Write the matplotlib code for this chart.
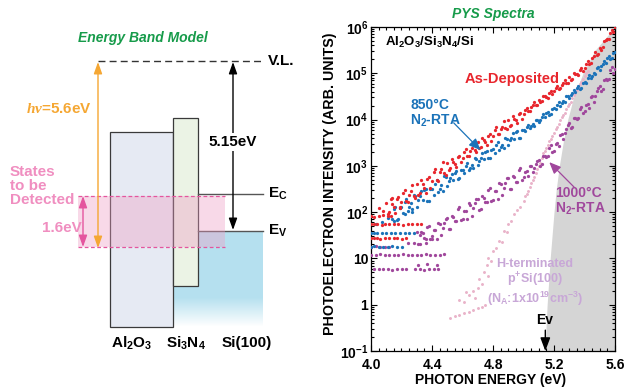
import numpy as np
import matplotlib
matplotlib.use('Agg')
import matplotlib.pyplot as plt
from matplotlib.patches import Rectangle, Polygon

plt.rcParams['font.family'] = ['Liberation Sans', 'DejaVu Sans']
plt.rcParams['font.weight'] = 'bold'
plt.rcParams['mathtext.fontset'] = 'custom'
plt.rcParams['mathtext.rm'] = 'Liberation Sans:bold'
plt.rcParams['mathtext.bf'] = 'Liberation Sans:bold'
plt.rcParams['mathtext.it'] = 'Liberation Serif:italic'
plt.rcParams['mathtext.default'] = 'rm'

# ---------------- PYS spectra: photon energy (eV) vs log10(intensity) ----------------
# as-deposited, scan 1: 4.10 .. 5.60 eV every 0.02 eV
lg_dep = [2.20, 2.00, 2.17, 1.99, 2.32, 2.22, 2.47, 2.21, 2.45, 2.35,
          2.60, 2.41, 2.60, 2.42, 2.76, 2.67, 2.93, 2.68, 2.94, 2.85,
          3.07, 2.95, 3.09, 2.98, 3.22, 3.18, 3.36, 3.21, 3.38, 3.34,
          3.52, 3.41, 3.55, 3.44, 3.68, 3.64, 3.83, 3.68, 3.85, 3.81,
          4.00, 3.89, 4.02, 3.92, 4.15, 4.12, 4.24, 4.19, 4.31, 4.31,
          4.43, 4.40, 4.50, 4.46, 4.61, 4.61, 4.73, 4.68, 4.79, 4.79,
          4.91, 4.88, 4.99, 4.96, 5.11, 5.12, 5.26, 5.23, 5.37, 5.40,
          5.55, 5.56, 5.71, 5.73, 5.93, 5.99]
e_dep = np.linspace(4.10, 5.60, len(lg_dep))
# scan 2: 4.11 .. 5.59 eV
lg_dep2 = [1.97, 2.28, 2.11, 2.28, 2.08, 2.41, 2.24, 2.38, 2.59, 2.30,
           2.37, 2.69, 2.53, 2.72, 2.53, 2.86, 2.70, 2.86, 3.08, 2.81,
           2.92, 3.15, 3.05, 3.19, 3.08, 3.31, 3.22, 3.33, 3.49, 3.31,
           3.38, 3.61, 3.51, 3.65, 3.54, 3.78, 3.69, 3.80, 3.96, 3.79,
           3.86, 4.08, 3.99, 4.12, 4.01, 4.20, 4.18, 4.27, 4.37, 4.31,
           4.37, 4.51, 4.49, 4.58, 4.55, 4.69, 4.67, 4.75, 4.85, 4.79,
           4.85, 5.00, 4.98, 5.08, 5.05, 5.21, 5.21, 5.32, 5.45, 5.42,
           5.51, 5.70, 5.73, 5.87, 5.90]
e_dep2 = np.linspace(4.11, 5.59, len(lg_dep2))
# low-count levels below 4.35 eV
e_dep_low = [4.00, 4.02, 4.05, 4.08, 4.11, 4.13,
             4.00, 4.02, 4.04, 4.07, 4.09, 4.12, 4.15, 4.18, 4.21, 4.24, 4.27, 4.30, 4.33,
             4.00, 4.02, 4.04, 4.06, 4.09, 4.12, 4.15, 4.17, 4.20, 4.23,
             4.05, 4.08, 4.14, 4.19]
lg_dep_low = [1.92, 1.90, 1.92, 1.93, 1.91, 1.92,
              1.74, 1.75, 1.74, 1.73, 1.74, 1.75, 1.74, 1.74, 1.73, 1.74, 1.75, 1.74, 1.74,
              1.44, 1.45, 1.44, 1.43, 1.44, 1.45, 1.44, 1.44, 1.43, 1.44,
              2.08, 2.02, 2.30, 2.12]

# 850 C N2-RTA, scan 1: 4.14 .. 5.60 eV every 0.02 eV
lg_850 = [1.86, 2.11, 1.85, 2.11, 2.21, 2.03, 2.19, 2.38, 2.12, 2.34,
          2.26, 2.51, 2.25, 2.51, 2.61, 2.43, 2.59, 2.79, 2.57, 2.73,
          2.70, 2.88, 2.73, 2.92, 3.00, 2.90, 3.02, 3.17, 3.01, 3.17,
          3.14, 3.32, 3.17, 3.36, 3.44, 3.34, 3.46, 3.61, 3.45, 3.61,
          3.58, 3.76, 3.61, 3.78, 3.84, 3.81, 3.90, 4.00, 3.94, 4.05,
          4.06, 4.17, 4.12, 4.24, 4.32, 4.30, 4.40, 4.50, 4.46, 4.58,
          4.60, 4.73, 4.69, 4.82, 4.90, 4.90, 5.00, 5.12, 5.08, 5.21,
          5.23, 5.37, 5.33, 5.47]
e_850 = np.linspace(4.14, 5.60, len(lg_850))
# scan 2: 4.15 .. 5.59 eV
lg_8502 = [2.07, 1.84, 2.09, 1.98, 2.29, 2.11, 2.06, 2.34, 2.26, 2.46,
           2.47, 2.24, 2.49, 2.38, 2.69, 2.51, 2.46, 2.75, 2.67, 2.83,
           2.85, 2.72, 2.90, 2.84, 3.07, 2.96, 2.95, 3.15, 3.11, 3.27,
           3.29, 3.16, 3.34, 3.28, 3.51, 3.40, 3.39, 3.59, 3.55, 3.71,
           3.73, 3.60, 3.78, 3.75, 3.89, 3.86, 3.87, 4.00, 4.00, 4.11,
           4.14, 4.10, 4.22, 4.22, 4.37, 4.35, 4.37, 4.51, 4.53, 4.64,
           4.69, 4.66, 4.79, 4.80, 4.96, 4.95, 4.98, 5.13, 5.15, 5.27,
           5.33, 5.30, 5.44]
e_8502 = np.linspace(4.15, 5.59, len(lg_8502))
e_850_low = [4.00, 4.02, 4.04, 4.07, 4.10, 4.13, 4.16, 4.19, 4.22, 4.25, 4.28,
             4.00, 4.02, 4.05, 4.08, 4.11, 4.14, 4.17, 4.20,
             4.03, 4.07, 4.11, 4.15, 4.22, 4.27]
lg_850_low = [1.55, 1.56, 1.55, 1.54, 1.55, 1.56, 1.55, 1.55, 1.54, 1.55, 1.56,
              1.25, 1.26, 1.25, 1.24, 1.25, 1.26, 1.25, 1.25,
              1.74, 1.78, 1.88, 1.80, 1.95, 2.00]

# 1000 C N2-RTA, scan 1: 4.30 .. 5.60 eV every 0.02 eV
lg_1000 = [1.57, 1.32, 1.54, 1.43, 1.71, 1.43, 1.61, 1.77, 1.50, 1.77,
           1.87, 1.64, 1.89, 1.80, 2.11, 1.85, 2.03, 2.19, 1.92, 2.19,
           2.29, 2.06, 2.31, 2.22, 2.52, 2.26, 2.45, 2.62, 2.36, 2.63,
           2.74, 2.51, 2.75, 2.66, 2.96, 2.75, 2.88, 2.99, 2.86, 3.04,
           3.12, 3.03, 3.22, 3.21, 3.44, 3.33, 3.50, 3.66, 3.57, 3.80,
           3.92, 3.84, 4.04, 4.04, 4.28, 4.18, 4.34, 4.49, 4.39, 4.61,
           4.72, 4.65, 4.87, 4.88, 5.14, 5.09]
e_1000 = np.linspace(4.30, 5.60, len(lg_1000))
# scan 2: 4.31 .. 5.59 eV
lg_10002 = [1.32, 1.58, 1.44, 1.68, 1.43, 1.61, 1.43, 1.74, 1.66, 1.86,
            1.63, 1.92, 1.80, 2.07, 1.84, 2.03, 1.85, 2.16, 2.08, 2.28,
            2.05, 2.34, 2.22, 2.48, 2.25, 2.45, 2.28, 2.60, 2.52, 2.73,
            2.50, 2.78, 2.66, 2.92, 2.69, 2.87, 2.78, 2.99, 2.96, 3.10,
            3.00, 3.22, 3.19, 3.39, 3.30, 3.47, 3.43, 3.68, 3.70, 3.88,
            3.81, 4.03, 4.01, 4.23, 4.14, 4.31, 4.26, 4.50, 4.51, 4.69,
            4.61, 4.85, 4.85, 5.08, 5.01]
e_10002 = np.linspace(4.31, 5.59, len(lg_10002))
e_1000_low = [4.00, 4.03, 4.06, 4.09, 4.12,
              4.00, 4.03, 4.06, 4.09, 4.12, 4.15, 4.18, 4.21, 4.24, 4.27, 4.30, 4.33, 4.36, 4.39, 4.42, 4.45, 4.48,
              4.02, 4.05, 4.08, 4.11, 4.14, 4.17, 4.20, 4.23, 4.29, 4.32, 4.35, 4.38, 4.41, 4.44,
              4.24, 4.28, 4.32, 4.36, 4.40,
              4.31, 4.37, 4.43]
lg_1000_low = [1.25, 1.26, 1.25, 1.24, 1.25,
               1.08, 1.08, 1.09, 1.08, 1.07, 1.08, 1.08, 1.09, 1.08, 1.08, 1.07, 1.08, 1.09, 1.08, 1.08, 1.08, 1.09,
               0.77, 0.77, 0.78, 0.77, 0.76, 0.77, 0.77, 0.78, 0.77, 0.77, 0.76, 0.77, 0.78, 0.77,
               1.33, 1.34, 1.50, 1.33, 1.48,
               0.86, 0.87, 0.86]

# H-terminated p+ Si(100) reference
e_href = [4.52, 4.55, 4.58, 4.61, 4.64, 4.67, 4.70, 4.73, 4.75,
          4.58, 4.61, 4.64, 4.67, 4.70, 4.73, 4.62, 4.68, 4.71, 4.74, 4.77,
          4.76, 4.77, 4.79, 4.80, 4.82, 4.84, 4.86, 4.87, 4.89, 4.90, 4.92, 4.94, 4.96, 4.98,
          5.00, 5.02, 5.04, 5.06, 5.08, 5.10, 5.12, 5.14, 5.16, 5.18, 5.20,
          5.22, 5.24, 5.26, 5.28, 5.30, 5.32, 5.34, 5.36, 5.38, 5.40, 5.42,
          5.01, 5.03, 5.05, 5.07, 5.09, 5.11, 5.13, 5.15, 5.17, 5.19, 5.21,
          5.23, 5.25, 5.27, 5.29, 5.31, 5.33, 5.35, 5.37, 5.39, 5.41]
lg_href = [-0.28, -0.25, -0.22, -0.18, -0.15, -0.12, -0.08, -0.04, -0.01,
           0.10, 0.05, 0.22, 0.30, 0.36, 0.45, 0.28, 0.15, 0.55, 0.70, 0.62,
           0.85, 1.00, 0.95, 1.15, 1.22, 1.38, 1.35, 1.60, 1.58, 1.75, 1.80, 1.95, 2.05, 2.12,
           2.25, 2.40, 2.55, 2.70, 2.85, 3.00, 3.17, 3.33, 3.46, 3.59, 3.72,
           3.85, 3.98, 4.10, 4.22, 4.34, 4.46, 4.58, 4.70, 4.82, 4.94, 5.06,
           2.34, 2.46, 2.64, 2.77, 2.94, 3.07, 3.27, 3.38, 3.54, 3.64, 3.80,
           3.90, 4.05, 4.15, 4.29, 4.39, 4.53, 4.63, 4.77, 4.87, 5.01]

# Si valence band edge (shaded region)
edge_lg = [-1, 0, 1, 2, 2.5, 3, 3.5, 4, 4.5, 5, 5.5, 6]
edge_e = [5.14, 5.155, 5.175, 5.20, 5.215, 5.235, 5.26, 5.29, 5.33, 5.39, 5.47, 5.60]

xticks = [4.0, 4.4, 4.8, 5.2, 5.6]
ytick_exp = [-1, 0, 1, 2, 3, 4, 5, 6]
ytick_labels = ['$10^{-1}$', '1', '10', '$10^{2}$', '$10^{3}$', '$10^{4}$', '$10^{5}$', '$10^{6}$']

c_red = '#e8262d'
c_blue = '#1b73b9'
c_pur = '#a0479c'
c_pink = '#e9b3c9'
c_lav = '#c8a7d7'
c_green = '#169b4a'
c_orange = '#f5a733'
c_mag = '#e4559e'

fig = plt.figure(figsize=(6.25, 3.87), dpi=100)

# ---------------- left: energy band model (pixel coordinates) ----------------
bg = fig.add_axes([0, 0, 1, 1])
bg.set_xlim(0, 625)
bg.set_ylim(387, 0)
bg.axis('off')

bg.text(143, 38, 'Energy Band Model', color=c_green, fontsize=10, style='italic',
        ha='center', va='center')

# Si substrate with fade at the bottom
si_poly = Polygon([(173, 231), (263, 231), (263, 327), (173, 327)], closed=True,
                  facecolor='none', edgecolor='none')
bg.add_patch(si_poly)
nrow = 96
grad = np.zeros((nrow, 2, 4))
grad[:, :, 0] = 0.71
grad[:, :, 1] = 0.88
grad[:, :, 2] = 0.94
alpha = np.ones(nrow)
alpha[66:] = np.linspace(1, 0, nrow - 66)
grad[:, :, 3] = alpha[:, None]
im = bg.imshow(grad, extent=(173, 263, 327, 231), aspect='auto', zorder=1,
               interpolation='bilinear')
im.set_clip_path(si_poly)
bg.set_xlim(0, 625)
bg.set_ylim(387, 0)

bg.add_patch(Rectangle((110, 132), 63, 195, facecolor='#e6eaf3', edgecolor='#3a3a3a',
                       lw=0.9, zorder=2))
bg.add_patch(Rectangle((173, 118), 25, 168, facecolor='#ebf3e5', edgecolor='#3a3a3a',
                       lw=0.9, zorder=2))
bg.plot([198, 263], [194, 194], color='#555555', lw=1.0, zorder=2)
bg.plot([198, 263], [231, 231], color='#555555', lw=1.0, zorder=2)

# states to be detected
bg.add_patch(Rectangle((78, 196), 147, 51, facecolor='#ef9cc3', alpha=0.38,
                       edgecolor='none', zorder=3))
bg.plot([78, 225], [196, 196], color=c_mag, lw=0.9, ls=(0, (3, 2)), zorder=4)
bg.plot([78, 225], [247, 247], color=c_mag, lw=0.9, ls=(0, (3, 2)), zorder=4)

# vacuum level
bg.plot([98, 263], [61, 61], color='#333333', lw=1.0, ls=(0, (5, 3)), zorder=2)
bg.text(268, 61, 'V.L.', fontsize=11, ha='left', va='center')

arr = '<|-|>,head_length=0.7,head_width=0.25'
bg.annotate('', xy=(98, 62), xytext=(98, 248),
            arrowprops=dict(arrowstyle=arr, color=c_orange, lw=1.0,
                            mutation_scale=10, shrinkA=0, shrinkB=0), zorder=5)
bg.text(92, 109, r'$\mathit{h\nu}$=5.6eV', color=c_orange, fontsize=11,
        ha='right', va='center')

bg.annotate('', xy=(233, 62), xytext=(233, 230),
            arrowprops=dict(arrowstyle=arr, color='black', lw=1.0,
                            mutation_scale=10, shrinkA=0, shrinkB=0), zorder=5)
bg.text(233, 142, '5.15eV', fontsize=11, ha='center', va='center', zorder=6,
        bbox=dict(facecolor='white', edgecolor='none', pad=1.5))

bg.annotate('', xy=(83, 196), xytext=(83, 247),
            arrowprops=dict(arrowstyle=arr, color=c_mag, lw=1.0,
                            mutation_scale=10, shrinkA=0, shrinkB=0), zorder=5)
bg.text(10, 185.5, 'States\nto be\nDetected', color='#f08ec0', fontsize=11,
        ha='left', va='center', linespacing=1.0)
bg.text(82, 228, '1.6eV', color='#f08ec0', fontsize=11, ha='right', va='center')

bg.text(268, 194, r'E$_{C}$', fontsize=11, ha='left', va='center')
bg.text(268, 231, r'E$_{V}$', fontsize=11, ha='left', va='center')

bg.text(132, 343, r'Al$_{2}$O$_{3}$', fontsize=11, ha='center', va='center')
bg.text(186, 343, r'Si$_{3}$N$_{4}$', fontsize=11, ha='center', va='center')
bg.text(247, 343, 'Si(100)', fontsize=11, ha='center', va='center')

# ---------------- right: PYS spectra ----------------
ax = fig.add_axes([371 / 625, 1 - 351 / 387, 244 / 625, 324 / 387])
ax.set_yscale('log')
ax.set_xlim(4.0, 5.6)
ax.set_ylim(0.1, 1e6)

ax.fill_betweenx(np.power(10.0, edge_lg), edge_e, 5.6, color='#d5d5d5', lw=0, zorder=1)

series = [(e_href, lg_href, c_pink, 3, 4.5),
          (e_1000, lg_1000, c_pur, 3, 5.5), (e_10002, lg_10002, c_pur, 3, 5.5),
          (e_1000_low, lg_1000_low, c_pur, 3, 5.5),
          (e_850, lg_850, c_blue, 4, 5.5), (e_8502, lg_8502, c_blue, 4, 5.5),
          (e_850_low, lg_850_low, c_blue, 4, 5.5),
          (e_dep, lg_dep, c_red, 4, 5.5), (e_dep2, lg_dep2, c_red, 4, 5.5),
          (e_dep_low, lg_dep_low, c_red, 4, 5.5)]
for ee, lg, col, z, ms in series:
    ax.scatter(ee, np.power(10.0, lg), s=ms, marker='o', color=col, lw=0, zorder=z)

ax.set_xticks(xticks)
ax.set_xticklabels(['%.1f' % v for v in xticks])
ax.set_xticks(np.arange(4.0, 5.601, 0.05), minor=True)
ax.set_yticks([10.0 ** k for k in ytick_exp])
ax.set_yticklabels(ytick_labels)
ax.tick_params(which='both', direction='in', top=True, right=True, width=0.8)
ax.tick_params(which='major', length=4, labelsize=10)
ax.tick_params(which='minor', length=2)
ax.tick_params(axis='x', pad=5)
ax.tick_params(axis='y', pad=2)
for sp in ax.spines.values():
    sp.set_linewidth(0.9)

ax.text(0.057, 0.951, r'Al$_{2}$O$_{3}$/Si$_{3}$N$_{4}$/Si', transform=ax.transAxes,
        fontsize=9.5, ha='left', va='center')
ax.text(0.578, 0.840, 'As-Deposited', color=c_red, transform=ax.transAxes,
        fontsize=10.5, ha='center', va='center')
ax.text(0.160, 0.733, '850°C\nN$_{2}$-RTA', color=c_blue, transform=ax.transAxes,
        fontsize=10, ha='left', va='center', linespacing=1.0)
ax.annotate('', xy=(4.718, 10 ** 3.34), xytext=(4.542, 10 ** 3.93),
            arrowprops=dict(arrowstyle='-|>,head_length=0.7,head_width=0.3', color=c_blue,
                            lw=0.9, mutation_scale=10, shrinkA=0, shrinkB=0), zorder=6)
ax.text(0.754, 0.461, '1000°C\nN$_{2}$-RTA', color=c_pur, transform=ax.transAxes,
        fontsize=10, ha='left', va='center', linespacing=1.0)
ax.annotate('', xy=(5.169, 10 ** 3.08), xytext=(5.332, 10 ** 2.54),
            arrowprops=dict(arrowstyle='-|>,head_length=0.7,head_width=0.3', color=c_pur,
                            lw=0.9, mutation_scale=10, shrinkA=0, shrinkB=0), zorder=6)
ax.text(0.672, 0.21, 'H-terminated\np$^{+}$Si(100)\n(N$_{A}$:1x10$^{19}$cm$^{-3}$)',
        color=c_lav, transform=ax.transAxes, fontsize=9, ha='center', va='center',
        linespacing=1.05, zorder=6)
ax.text(0.713, 0.096, 'Ev', transform=ax.transAxes, fontsize=10, ha='center', va='center')
ax.annotate('', xy=(5.143, 0.1), xytext=(5.143, 10 ** -0.55),
            arrowprops=dict(arrowstyle='-|>,head_length=0.8,head_width=0.3', color='black',
                            lw=1.0, mutation_scale=10, shrinkA=0, shrinkB=0), zorder=6)

fig.text(493 / 625, 1 - 14 / 387, 'PYS Spectra', color=c_green, fontsize=10,
         style='italic', ha='center', va='center')
fig.text(330 / 625, 1 - 184 / 387, 'PHOTOELECTRON INTENSITY (ARB. UNITS)', fontsize=10.3,
         rotation=90, ha='center', va='center')
fig.text(491 / 625, 1 - 380 / 387, 'PHOTON ENERGY (eV)', fontsize=10,
         ha='center', va='center')

fig.savefig('out.png', dpi=100)
